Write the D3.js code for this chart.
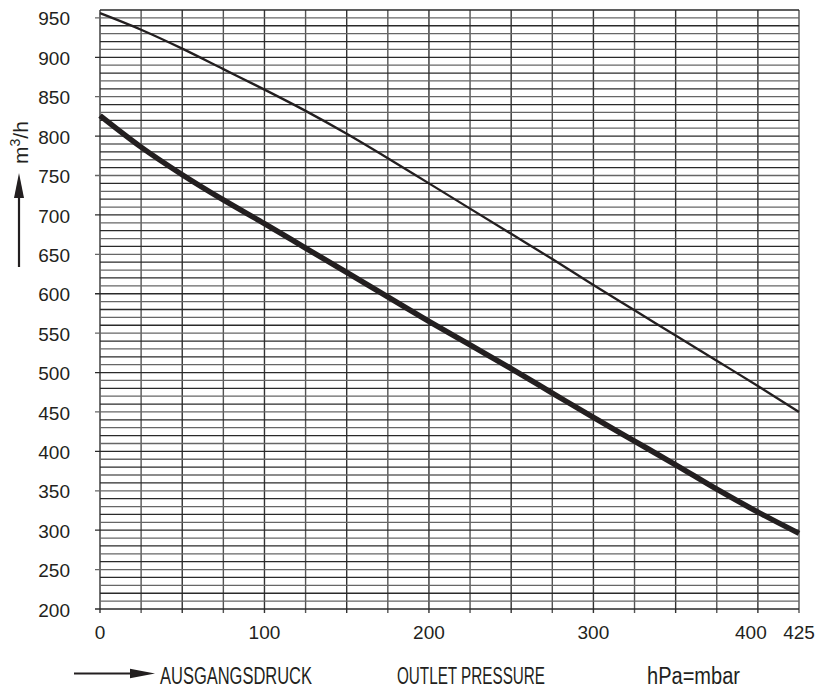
<!DOCTYPE html>
<html>
<head>
<meta charset="utf-8">
<script src="https://cdn.jsdelivr.net/npm/d3@7"></script>
<style>
  html, body { margin: 0; padding: 0; background: #fff; }
  svg text { font-family: "Liberation Sans", Arial, sans-serif; fill: #231f20; }
</style>
</head>
<body>
<svg id="chart" width="818" height="688"></svg>
<script>
// ---- data ----
const pressure = [0, 25, 50, 75, 100, 125, 150, 175, 200, 225, 250, 275, 300, 325, 350, 375, 400, 425];
const upperFlow = [956, 935, 911, 885, 859, 832, 803, 772, 740, 708, 676, 644, 611, 579, 547, 515, 483, 450];
const lowerFlow = [826, 786, 751, 719, 689, 658, 627, 596, 565, 535, 505, 474, 443, 413, 383, 352, 323, 296];
const xTickLabels = [0, 100, 200, 300, 400, 425];
const yTickLabels = [200, 250, 300, 350, 400, 450, 500, 550, 600, 650, 700, 750, 800, 850, 900, 950];
const captions = ["AUSGANGSDRUCK", "OUTLET PRESSURE", "hPa=mbar"];

// ---- layout ----
const svg = d3.select("#chart");
const x = d3.scaleLinear().domain([0, 425]).range([100, 799]);
const y = d3.scaleLinear().domain([200, 960]).range([609, 10]);
const ink = "#231f20";

// grid: vertical every 25, horizontal every 10
const g = svg.append("g");
g.selectAll("line.v").data(d3.range(0, 426, 25)).join("line")
  .attr("x1", d => x(d)).attr("x2", d => x(d))
  .attr("y1", y(960)).attr("y2", y(200) + 4)
  .attr("stroke", (d, i) => i % 2 ? "#555" : "#333").attr("stroke-width", 1.4);
g.selectAll("line.h").data(d3.range(200, 961, 10)).join("line")
  .attr("x1", d => d % 50 === 0 ? x(0) - 5 : x(0)).attr("x2", x(425))
  .attr("y1", d => y(d)).attr("y2", d => y(d))
  .attr("stroke", (d, i) => i % 2 ? "#666" : "#2a2a2a").attr("stroke-width", 1.3);

// y tick labels
svg.append("g").selectAll("text").data(yTickLabels).join("text")
  .attr("x", 70).attr("y", d => y(d)).attr("dy", "0.4em")
  .attr("text-anchor", "end").attr("font-size", 19)
  .text(d => d);

// x tick labels
svg.append("g").selectAll("text").data(xTickLabels).join("text")
  .attr("x", d => x(d) + (d === 400 ? -7 : 0)).attr("y", 639)
  .attr("text-anchor", "middle").attr("font-size", 19)
  .text(d => d);

// curves
const line = d3.line().x((d, i) => x(pressure[i])).y(d => y(d)).curve(d3.curveMonotoneX);
svg.append("path").datum(upperFlow).attr("d", line)
  .attr("fill", "none").attr("stroke", ink).attr("stroke-width", 2.3);
svg.append("path").datum(lowerFlow).attr("d", line)
  .attr("fill", "none").attr("stroke", ink).attr("stroke-width", 5.5);

// y-axis label with arrow
svg.append("line").attr("x1", 19).attr("x2", 19).attr("y1", 267).attr("y2", 190)
  .attr("stroke", ink).attr("stroke-width", 2.2);
svg.append("path").attr("d", "M19,173 L14,198 L24,198 Z").attr("fill", ink);
const yl = svg.append("text").attr("transform", "translate(28,164) rotate(-90)")
  .attr("font-size", 21);
yl.append("tspan").text("m");
yl.append("tspan").attr("font-size", 14).attr("dy", -8).text("3");
yl.append("tspan").attr("dy", 8).text("/h");

// bottom arrow
svg.append("line").attr("x1", 74).attr("x2", 135).attr("y1", 673.5).attr("y2", 673.5)
  .attr("stroke", ink).attr("stroke-width", 2.2);
svg.append("path").attr("d", "M155,673.5 L130,668.7 L130,678.3 Z").attr("fill", ink);

// captions (condensed)
const capPos = [[160, 152], [397, 148], [647, 93]];
svg.append("g").selectAll("text").data(captions).join("text")
  .attr("x", (d, i) => capPos[i][0]).attr("y", 683.5)
  .attr("font-size", 23)
  .attr("textLength", (d, i) => capPos[i][1])
  .attr("lengthAdjust", "spacingAndGlyphs")
  .text(d => d);
</script>
</body>
</html>
